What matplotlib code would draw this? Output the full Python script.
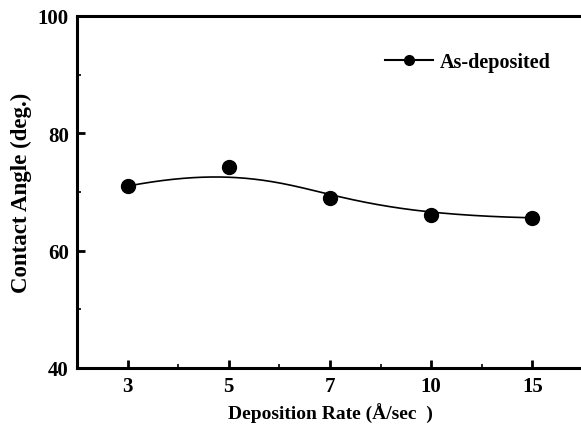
import numpy as np
import matplotlib
matplotlib.use("Agg")
import matplotlib.pyplot as plt
from matplotlib.ticker import MultipleLocator

categories = ["3", "5", "7", "10", "15"]
contact_angle = [71.0, 74.3, 69.0, 66.0, 65.6]

plt.rcParams['font.family'] = ['Liberation Serif', 'DejaVu Serif']
plt.rcParams['font.weight'] = 'bold'


def bspline(ctrl_x, ctrl_y, degree=3, n=300):
    """Clamped uniform B-spline using the data points as control points."""
    P = np.column_stack([ctrl_x, ctrl_y]).astype(float)
    m = len(P)
    k = degree
    inner = np.arange(1, m - k)
    knots = np.concatenate([np.zeros(k + 1), inner, np.full(k + 1, m - k)]).astype(float)
    t = np.linspace(0, m - k, n)
    t[-1] -= 1e-9

    def basis(i, p, tt):
        if p == 0:
            return ((knots[i] <= tt) & (tt < knots[i + 1])).astype(float)
        out = np.zeros_like(tt)
        d1 = knots[i + p] - knots[i]
        d2 = knots[i + p + 1] - knots[i + 1]
        if d1 > 0:
            out += (tt - knots[i]) / d1 * basis(i, p - 1, tt)
        if d2 > 0:
            out += (knots[i + p + 1] - tt) / d2 * basis(i + 1, p - 1, tt)
        return out

    B = np.array([basis(i, k, t) for i in range(m)])
    curve = B.T @ P
    return curve[:, 0], curve[:, 1]


fig = plt.figure(figsize=(5.81, 4.27), dpi=100)
ax = fig.add_axes([77/581, 1 - 369/427, (583-77)/581, (369-17)/427])

xi = np.arange(len(categories))
cx, cy = bspline(xi, contact_angle)
ax.plot(cx, cy, color='black', lw=1.2)
ax.plot(xi, contact_angle, 'o', color='black', ms=10, ls='none')
ax.plot([], [], '-o', color='black', ms=7, lw=1.5, label='As-deposited')

ax.set_xlim(-0.5, len(categories) - 0.5)
ax.set_ylim(40, 100)
ax.set_xticks(xi)
ax.set_xticklabels(categories)
ax.xaxis.set_minor_locator(MultipleLocator(1, offset=0.5))
ax.yaxis.set_major_locator(MultipleLocator(20))
ax.yaxis.set_minor_locator(MultipleLocator(10))
ax.tick_params(which='major', direction='in', length=6, width=2, labelsize=15, pad=6)
ax.tick_params(which='minor', direction='in', length=3, width=1.2)
ax.tick_params(top=False, right=False, which='both')
for s in ax.spines.values():
    s.set_linewidth(2.2)

ax.set_xlabel('Deposition Rate (Å/sec  )', fontsize=14, fontweight='bold', labelpad=5)
ax.set_ylabel('Contact Angle (deg.)', fontsize=16.5, fontweight='bold', labelpad=4)

ax.legend(loc='center left', bbox_to_anchor=(0.572, 0.869), frameon=False,
          handlelength=2.4, handletextpad=0.35,
          prop={'weight': 'bold', 'size': 14.5})

fig.savefig('out.png', dpi=100)
